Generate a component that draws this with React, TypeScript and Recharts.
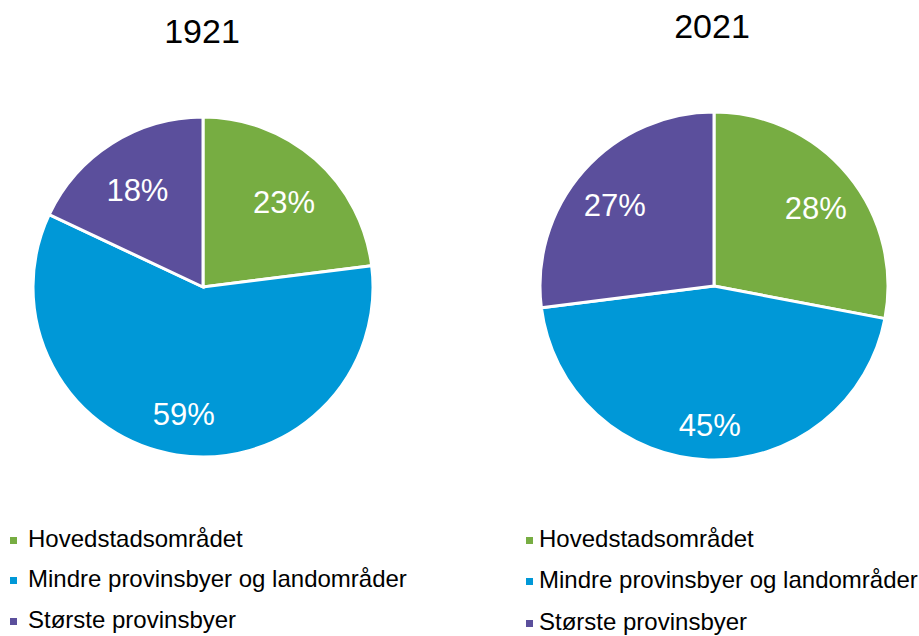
import React from "react";
import { PieChart, Pie, Cell } from "recharts";

const categories = [
  "Hovedstadsområdet",
  "Mindre provinsbyer og landområder",
  "Største provinsbyer",
];
const values1921 = [23, 59, 18];
const values2021 = [28, 45, 27];
const titles = ["1921", "2021"];
const colors = ["#77AD42", "#0098D7", "#5B4F9C"];

const FONT = "'Liberation Sans', Arial, Helvetica, sans-serif";
const RAD = Math.PI / 180;

const data1921 = categories.map((name, i) => ({ name, value: values1921[i] }));
const data2021 = categories.map((name, i) => ({ name, value: values2021[i] }));

const makeLabel = (frac: number) => (props: any) => {
  const { cx, cy, midAngle, outerRadius, value } = props;
  const r = outerRadius * frac;
  const x = cx + r * Math.cos(-midAngle * RAD);
  const y = cy + r * Math.sin(-midAngle * RAD) + 7;
  return (
    <text
      x={x}
      y={y}
      fill="#ffffff"
      textAnchor="middle"
      dominantBaseline="central"
      fontSize={31}
      fontFamily={FONT}
    >
      {`${value}%`}
    </text>
  );
};

const legends = [
  { x: 10, tx: 28, ys: [547, 587, 628] },
  { x: 526, tx: 539, ys: [547, 588, 630] },
];

export default function App() {
  return (
    <div
      style={{
        position: "absolute",
        left: 0,
        top: 0,
        width: 919,
        height: 636,
        background: "#ffffff",
        overflow: "hidden",
      }}
    >
      <div style={{ position: "absolute", left: 0, top: 0 }}>
        <PieChart width={919} height={636} margin={{ top: 0, right: 0, bottom: 0, left: 0 }}>
          <Pie
            data={data1921}
            dataKey="value"
            nameKey="name"
            cx={203}
            cy={287}
            outerRadius={170}
            startAngle={90}
            endAngle={-270}
            stroke="#ffffff"
            strokeWidth={3}
            labelLine={false}
            label={makeLabel(0.72)}
            isAnimationActive={false}
          >
            {data1921.map((d, i) => (
              <Cell key={d.name} fill={colors[i]} />
            ))}
          </Pie>
          <Pie
            data={data2021}
            dataKey="value"
            nameKey="name"
            cx={714}
            cy={286}
            outerRadius={174}
            startAngle={90}
            endAngle={-270}
            stroke="#ffffff"
            strokeWidth={3}
            labelLine={false}
            label={makeLabel(0.76)}
            isAnimationActive={false}
          >
            {data2021.map((d, i) => (
              <Cell key={d.name} fill={colors[i]} />
            ))}
          </Pie>
        </PieChart>
      </div>
      <svg
        width={919}
        height={636}
        style={{ position: "absolute", left: 0, top: 0, pointerEvents: "none" }}
      >
        <text x={202} y={43} textAnchor="middle" fontSize={34} fontFamily={FONT} fill="#000">
          {titles[0]}
        </text>
        <text x={712} y={38} textAnchor="middle" fontSize={34} fontFamily={FONT} fill="#000">
          {titles[1]}
        </text>
        {legends.map((lg, li) =>
          categories.map((c, i) => (
            <g key={`${li}-${i}`}>
              <rect x={lg.x} y={lg.ys[i] - 10} width={7} height={7} fill={colors[i]} />
              <text x={lg.tx} y={lg.ys[i]} fontSize={24} fontFamily={FONT} fill="#000">
                {c}
              </text>
            </g>
          ))
        )}
      </svg>
    </div>
  );
}
